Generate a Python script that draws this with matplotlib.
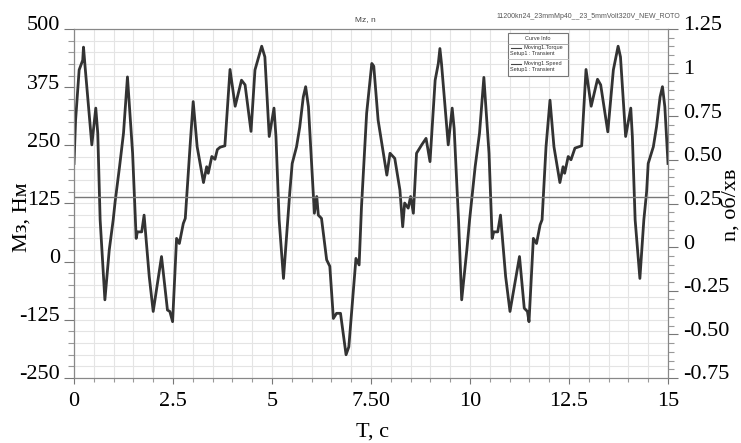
import matplotlib
matplotlib.use('Agg')
import matplotlib.pyplot as plt
import matplotlib.transforms as mtransforms
from matplotlib.patches import Rectangle
from matplotlib.ticker import MultipleLocator

plt.rcParams['axes.unicode_minus'] = False

# torque curve
t = [0.0, 0.04, 0.13, 0.22, 0.24, 0.28, 0.45, 0.55, 0.60, 0.66, 0.78, 0.89, 0.99, 1.04, 1.15, 1.25,
     1.35, 1.48, 1.57, 1.60, 1.71, 1.77, 1.90, 2.00, 2.21, 2.36, 2.42, 2.49, 2.59, 2.66, 2.76, 2.81,
     2.93, 3.01, 3.11, 3.27, 3.35, 3.39, 3.48, 3.56, 3.62, 3.69, 3.81, 3.94, 4.07, 4.23, 4.32, 4.47,
     4.57, 4.74, 4.82, 4.93, 5.05, 5.10, 5.18, 5.29, 5.45, 5.51, 5.62, 5.70, 5.79, 5.85, 5.92, 6.07,
     6.13, 6.17, 6.25, 6.38, 6.46, 6.55, 6.63, 6.73, 6.87, 6.94, 7.12, 7.20, 7.26, 7.39, 7.52, 7.57,
     7.68, 7.77, 7.90, 7.98, 8.10, 8.23, 8.30, 8.35, 8.44, 8.50, 8.57, 8.65, 8.78, 8.89, 8.99, 9.12,
     9.20, 9.24, 9.28, 9.45, 9.55, 9.60, 9.71, 9.79, 9.92, 9.99, 10.04, 10.13, 10.24, 10.35, 10.48,
     10.56, 10.60, 10.70, 10.77, 10.90, 11.01, 11.25, 11.37, 11.45, 11.49, 11.60, 11.68, 11.77, 11.82,
     11.92, 12.02, 12.12, 12.27, 12.35, 12.39, 12.48, 12.55, 12.65, 12.82, 12.93, 13.06, 13.22, 13.30,
     13.48, 13.62, 13.74, 13.80, 13.93, 14.06, 14.10, 14.17, 14.29, 14.39, 14.46, 14.50, 14.63, 14.71,
     14.80, 14.86, 14.92, 15.0]
torque = [211, 304, 412, 433, 461, 419, 251, 330, 276, 90, -82, 25, 90, 130, 204, 276,
          397, 233, 50, 64, 64, 100, -32, -107, 11, -104, -107, -129, 50, 39, 82, 93,
          247, 344, 247, 170, 204, 190, 226, 220, 241, 246, 249, 413, 334, 390, 380, 280,
          412, 463, 440, 269, 330, 269, 90, -36, 150, 211, 247, 289, 354, 376, 333, 104,
          140, 100, 93, 4, -10, -122, -111, -111, -200, -183, 7, -7, 118, 319, 426, 420,
          304, 256, 186, 233, 222, 154, 75, 126, 115, 140, 104, 233, 251, 265, 215, 390,
          426, 458, 426, 251, 330, 286, 90, -82, 25, 90, 130, 204, 276, 396, 233,
          50, 64, 64, 100, -32, -107, 11, -100, -107, -129, 50, 39, 79, 90,
          247, 347, 247, 170, 204, 190, 226, 219, 244, 249, 413, 334, 392, 380,
          279, 412, 463, 440, 269, 330, 269, 90, -36, 90, 150, 211, 247, 290,
          354, 376, 333, 211]

speed_t = [0.0, 15.0]
speed = [0.29, 0.29]

x_ticks = [0, 2.5, 5, 7.5, 10, 12.5, 15]
x_labels = ['0', '2.5', '5', '7.50', '10', '12.5', '15']
left_ticks = [-250, -125, 0, 125, 250, 375, 500]
right_ticks = [-0.75, -0.5, -0.25, 0, 0.25, 0.5, 0.75, 1.0, 1.25]
right_labels = ['-0.75', '-0.50', '-0.25', '0', '0.25', '0.50', '0.75', '1', '1.25']

SERIF = 'Liberation Serif'
W, H = 741, 443

fig = plt.figure(figsize=(W/100, H/100), dpi=100)
ax = fig.add_axes([74/W, 1-378/H, 594/W, 349/H])
ax2 = ax.twinx()

ax.set_xlim(0, 15)
ax.set_ylim(-250, 500)
ax2.set_ylim(-0.75, 1.25)

ax.xaxis.set_minor_locator(MultipleLocator(0.5))
ax.yaxis.set_minor_locator(MultipleLocator(25))
ax2.yaxis.set_minor_locator(MultipleLocator(0.05))
ax.set_xticks(x_ticks)
ax.set_xticklabels(x_labels)
ax.set_yticks(left_ticks)
ax2.set_yticks(right_ticks)
ax2.set_yticklabels(right_labels)

ax.grid(True, which='both', color='#e4e4e4', lw=0.8)
ax.set_axisbelow(True)

ax.plot(t, torque, color='#333333', lw=2.0, zorder=3)
ax2.plot(speed_t, speed, color='#777777', lw=1.0, zorder=2)

for a in (ax, ax2):
    for s in a.spines.values():
        s.set_color('#888888')
        s.set_linewidth(0.8)
ax.spines['left'].set_color('#555555')

ax.tick_params(axis='both', which='major', direction='out', length=7, width=0.8, color='#777777',
               labelsize=16, pad=3)
ax.tick_params(axis='both', which='minor', direction='out', length=4, width=0.8, color='#999999')
ax.tick_params(axis='x', which='major', length=4, pad=6)
ax.tick_params(axis='x', which='minor', length=3)
ax2.tick_params(axis='y', which='major', direction='out', length=7, width=0.8, color='#777777',
                labelsize=16, pad=4)
ax2.tick_params(axis='y', which='minor', direction='out', length=4, width=0.8, color='#999999')

shift = mtransforms.ScaledTranslation(0, 4/72, fig.dpi_scale_trans)
for lbl in ax.get_xticklabels() + ax.get_yticklabels() + ax2.get_yticklabels():
    lbl.set_fontfamily(SERIF)
for lbl in ax.get_yticklabels() + ax2.get_yticklabels():
    lbl.set_transform(lbl.get_transform() + shift)

# axis titles
fig.text(372/W, 1-432/H, 'T, c', fontfamily=SERIF, fontsize=16, ha='center', va='center')
fig.text(22/W, 1-217/H, 'Мз, Нм', fontfamily=SERIF, fontsize=16, ha='center', va='center',
         rotation=90)
fig.text(731/W, 1-205/H, 'n, об/хв', fontfamily=SERIF, fontsize=16, ha='center', va='center',
         rotation=90)

# header texts
fig.text(365/W, 1-20/H, 'Mz, n', fontsize=6, color='#444444', ha='center', va='center',
         fontfamily='Liberation Sans')
fig.text(680/W, 1-17/H, '11200kn24_23mmMp40__23_5mmVolt320V_NEW_ROTO', fontsize=5,
         color='#555555', ha='right', va='center', fontfamily='Liberation Sans')

# curve info box
fig.patches.append(Rectangle((508/W, 1-76/H), 60/W, 43/H, transform=fig.transFigure,
                             facecolor='white', edgecolor='#777777', lw=0.8, zorder=5))
fig.add_artist(plt.Line2D([508/W, 568/W], [1-44/H, 1-44/H], transform=fig.transFigure,
                          color='#999999', lw=0.6, zorder=6))
fig.add_artist(plt.Line2D([508/W, 568/W], [1-59/H, 1-59/H], transform=fig.transFigure,
                          color='#bbbbbb', lw=0.6, zorder=6))
fig.text(538/W, 1-39/H, 'Curve Info', fontsize=4, ha='center', va='center', color='#333333',
         fontfamily='Liberation Sans', zorder=7)
for yy, name in [(48, 'Moving1.Torque'), (64, 'Moving1.Speed')]:
    fig.add_artist(plt.Line2D([511/W, 521/W], [1-yy/H, 1-yy/H], transform=fig.transFigure,
                              color='#444444', lw=0.8, zorder=7))
    fig.text(524/W, 1-yy/H, name, fontsize=4, va='center', color='#333333',
             fontfamily='Liberation Sans', zorder=7)
    fig.text(510/W, 1-(yy+6)/H, 'Setup1 : Transient', fontsize=4, va='center', color='#333333',
             fontfamily='Liberation Sans', zorder=7)

fig.savefig('out.png', dpi=100)
